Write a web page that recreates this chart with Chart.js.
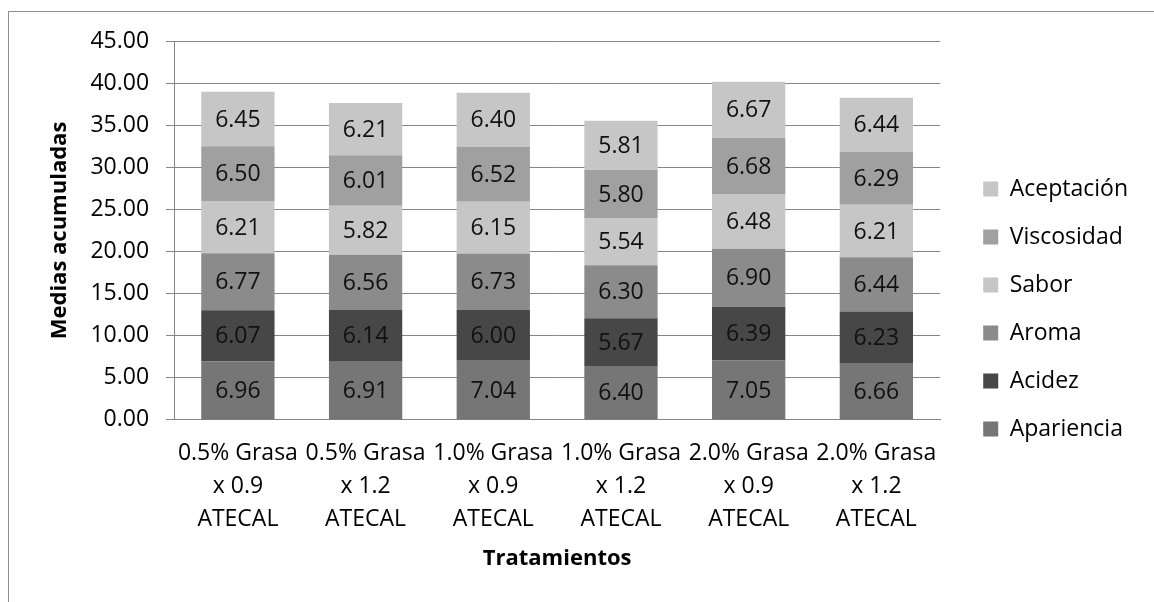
<!DOCTYPE html>
<html>
<head>
<meta charset="utf-8">
<script src="https://cdn.jsdelivr.net/npm/chart.js@4/dist/chart.umd.min.js"></script>
<style>
  html, body { margin: 0; padding: 0; background: #fff; overflow: hidden; }
  #frame { position: absolute; left: 8px; top: 11px; width: 1200px; height: 700px; border-left: 1.5px solid #8e8e8e; border-top: 1.5px solid #8e8e8e; }
  #wrap { position: absolute; left: 0; top: 0; width: 1154px; height: 602px; }
</style>
</head>
<body>
<div id="frame"></div>
<div id="wrap"><canvas id="chart"></canvas></div>
<script>
const categories = [
  ['0.5% Grasa', 'x 0.9', 'ATECAL'],
  ['0.5% Grasa', 'x 1.2', 'ATECAL'],
  ['1.0% Grasa', 'x 0.9', 'ATECAL'],
  ['1.0% Grasa', 'x 1.2', 'ATECAL'],
  ['2.0% Grasa', 'x 0.9', 'ATECAL'],
  ['2.0% Grasa', 'x 1.2', 'ATECAL'],
];
const apariencia = [6.96, 6.91, 7.04, 6.40, 7.05, 6.66];
const acidez     = [6.07, 6.14, 6.00, 5.67, 6.39, 6.23];
const aroma      = [6.77, 6.56, 6.73, 6.30, 6.90, 6.44];
const sabor      = [6.21, 5.82, 6.15, 5.54, 6.48, 6.21];
const viscosidad = [6.50, 6.01, 6.52, 5.80, 6.68, 6.29];
const aceptacion = [6.45, 6.21, 6.40, 5.81, 6.67, 6.44];
const yTicks = [0, 5, 10, 15, 20, 25, 30, 35, 40, 45];

const FONT = "'Open Sans', sans-serif";
const gridColor = '#868686';

const series = [
  { label: 'Apariencia', data: apariencia, color: '#767676' },
  { label: 'Acidez',     data: acidez,     color: '#474747' },
  { label: 'Aroma',      data: aroma,      color: '#8b8b8b' },
  { label: 'Sabor',      data: sabor,      color: '#c6c6c6' },
  { label: 'Viscosidad', data: viscosidad, color: '#a0a0a0' },
  { label: 'Aceptación', data: aceptacion, color: '#c6c6c6' },
];

// value labels centred in each stacked segment
const segmentLabels = {
  id: 'segmentLabels',
  afterDatasetsDraw(chart) {
    const ctx = chart.ctx;
    ctx.save();
    ctx.font = `23px ${FONT}`;
    ctx.fillStyle = '#111';
    ctx.textAlign = 'center';
    ctx.textBaseline = 'middle';
    chart.data.datasets.forEach((ds, i) => {
      chart.getDatasetMeta(i).data.forEach((bar, j) => {
        ctx.fillText(ds.data[j].toFixed(2), bar.x, (bar.y + bar.base) / 2 + 1);
      });
    });
    ctx.restore();
  }
};

new Chart(document.getElementById('chart'), {
  type: 'bar',
  data: {
    labels: categories,
    datasets: series.map(s => ({
      label: s.label, data: s.data, backgroundColor: s.color, borderWidth: 0,
      categoryPercentage: 1, barPercentage: 0.574
    }))
  },
  options: {
    responsive: true,
    maintainAspectRatio: false,
    animation: false,
    layout: { padding: { top: 36, bottom: 20, left: 40, right: 16 } },
    plugins: {
      legend: {
        position: 'right',
        reverse: true,
        labels: { boxWidth: 15, boxHeight: 15, padding: 25, color: '#000', font: { family: FONT, size: 23 } }
      },
      tooltip: { enabled: false }
    },
    scales: {
      x: {
        stacked: true,
        grid: { display: false },
        border: { display: true, color: gridColor },
        ticks: { color: '#000', padding: 9, maxRotation: 0, font: { family: FONT, size: 23, lineHeight: 1.43 } },
        title: { display: true, text: 'Tratamientos', color: '#000', padding: { top: 1, bottom: 10 }, font: { family: FONT, size: 22, weight: 'bold', lineHeight: 1.2 } }
      },
      xTop: {
        position: 'top', display: true,
        grid: { display: false }, border: { display: false }, ticks: { display: false },
        afterFit: s => { s.height = 5; }
      },
      y: {
        stacked: true,
        min: 0, max: 45,
        afterBuildTicks: s => { s.ticks = yTicks.map(v => ({ value: v })); },
        grid: { color: gridColor, lineWidth: 1, tickLength: 8, tickColor: gridColor },
        border: { display: true, color: gridColor },
        ticks: { color: '#000', padding: 17, font: { family: FONT, size: 23 }, callback: v => Number(v).toFixed(2) },
        title: { display: true, text: 'Medias acumuladas', color: '#000', padding: { top: 7, bottom: 0 }, font: { family: FONT, size: 22, weight: 'bold', lineHeight: 1.2 } }
      },
      yRight: {
        position: 'right', display: true,
        grid: { display: false }, border: { display: false }, ticks: { display: false },
        afterFit: s => { s.width = 18; }
      }
    }
  },
  plugins: [segmentLabels]
});
</script>
</body>
</html>
